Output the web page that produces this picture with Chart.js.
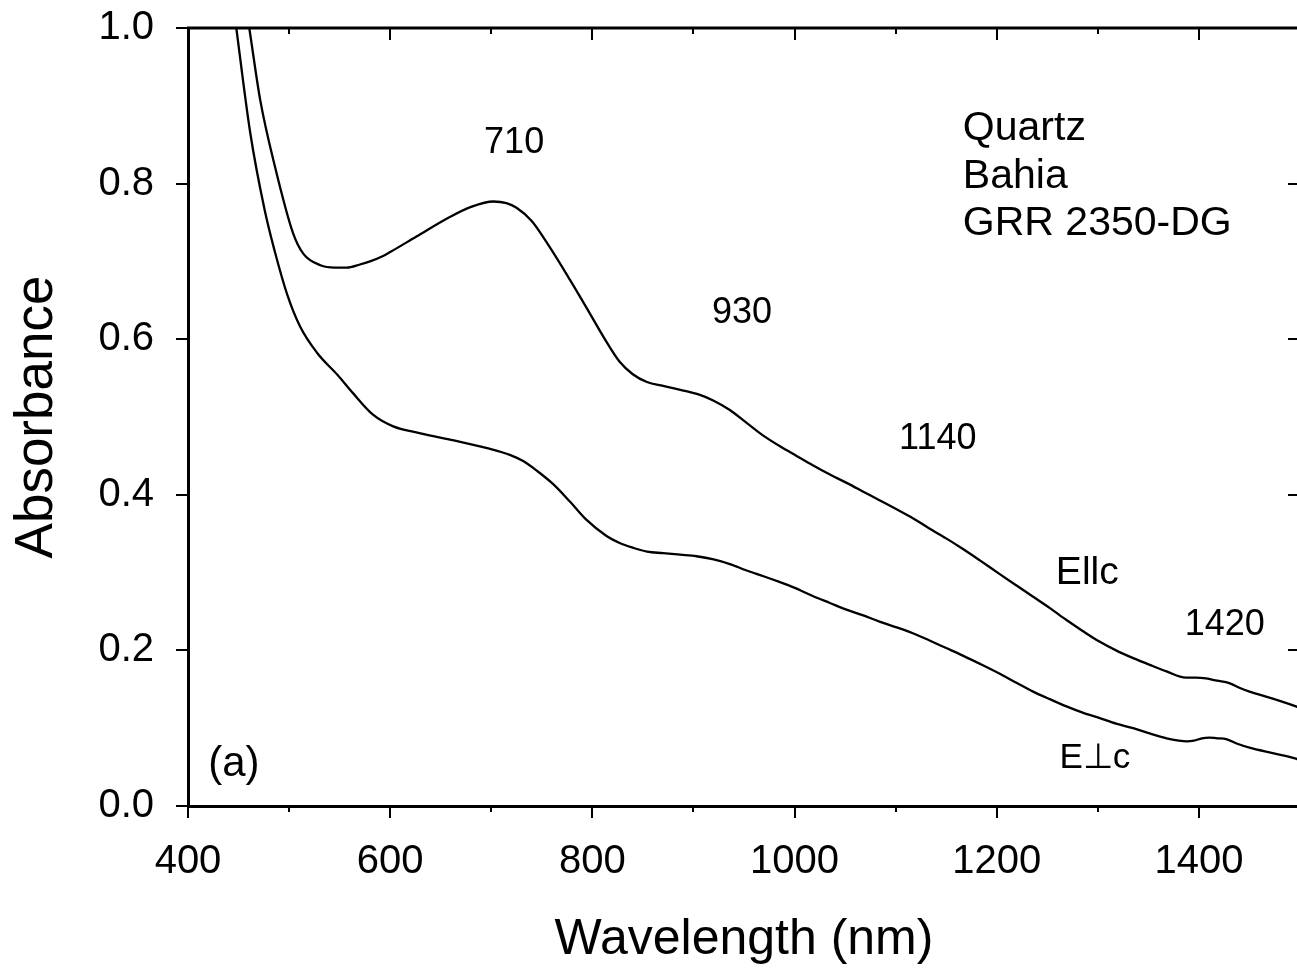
<!DOCTYPE html>
<html>
<head>
<meta charset="utf-8">
<title>Quartz Bahia absorbance</title>
<script src="https://cdn.jsdelivr.net/npm/chart.js@4.4.1/dist/chart.umd.min.js"></script>
<style>
    html, body { margin: 0; padding: 0; background: #fff; overflow: hidden; }
    #wrap { width: 1301px; height: 970px; }
</style>
</head>
<body>
<div id="wrap"><canvas id="absChart" width="1301" height="970"></canvas></div>
<script>
// Wavelength (nm) and absorbance, E||c
const parWave = [452, 460.6, 471.5, 486, 504, 514, 531, 545, 557, 570, 580, 593, 600, 626, 659, 680, 702, 715, 725, 740,
    758, 778, 794, 811, 827, 840, 854, 870, 887, 905, 920, 936, 952, 968, 986, 1002, 1018, 1035, 1052, 1068,
    1084, 1100, 1117, 1133, 1150, 1167, 1183, 1203, 1220, 1236, 1253, 1269, 1285, 1302, 1318, 1335, 1352, 1368, 1387, 1397,
    1407, 1418, 1430, 1440, 1450, 1473, 1496, 1500];
const parAbs = [1.07, 1.00, 0.907, 0.822, 0.736, 0.710, 0.695, 0.692, 0.692, 0.696, 0.700, 0.707, 0.712, 0.732, 0.757, 0.770, 0.777, 0.775, 0.769, 0.752,
    0.718, 0.676, 0.641, 0.603, 0.571, 0.555, 0.545, 0.540, 0.535, 0.529, 0.521, 0.509, 0.493, 0.477, 0.462, 0.450, 0.438, 0.426, 0.415, 0.404,
    0.393, 0.382, 0.370, 0.357, 0.344, 0.330, 0.316, 0.298, 0.283, 0.269, 0.254, 0.239, 0.225, 0.211, 0.200, 0.190, 0.181, 0.173, 0.165, 0.165,
    0.164, 0.161, 0.158, 0.152, 0.147, 0.138, 0.128, 0.126];

// E perpendicular c
const perpWave = [440, 447.8, 461.6, 476, 486, 498, 511, 528, 548, 563, 583, 603, 630, 663, 696, 719, 732, 745, 761, 778, 794,
    814, 827, 840, 854, 870, 887, 903, 920, 936, 952, 970, 985, 999, 1018, 1035, 1052, 1068, 1084, 1100, 1117,
    1133, 1150, 1167, 1183, 1203, 1220, 1236, 1253, 1269, 1285, 1302, 1318, 1335, 1352, 1368, 1380, 1388, 1395, 1403, 1410,
    1418, 1427, 1438, 1450, 1473, 1496, 1500];
const perpAbs = [1.08, 1.00, 0.865, 0.765, 0.712, 0.658, 0.616, 0.582, 0.554, 0.531, 0.503, 0.488, 0.479, 0.470, 0.460, 0.451, 0.443, 0.431, 0.414, 0.391, 0.368,
    0.347, 0.338, 0.332, 0.327, 0.325, 0.323, 0.321, 0.317, 0.311, 0.303, 0.295, 0.288, 0.281, 0.270, 0.261, 0.252, 0.245, 0.237, 0.230, 0.222,
    0.213, 0.203, 0.193, 0.183, 0.170, 0.158, 0.147, 0.137, 0.128, 0.120, 0.113, 0.106, 0.100, 0.093, 0.087, 0.084, 0.083, 0.084, 0.087, 0.088,
    0.087, 0.086, 0.080, 0.075, 0.068, 0.061, 0.059];

// Tick values
const xMajor = [400, 600, 800, 1000, 1200, 1400];
const xMinor = [500, 700, 900, 1100, 1300];
const yMajor = [0, 0.2, 0.4, 0.6, 0.8, 1.0];

// Text labels in the plot (data coordinates)
const notes = [
    { text: '710', x: 722.6, y: 0.852, size: 36, align: 'center' },
    { text: '930', x: 948, y: 0.634, size: 36, align: 'center' },
    { text: '1140', x: 1141.7, y: 0.472, size: 36, align: 'center' },
    { text: '1420', x: 1425.6, y: 0.233, size: 36, align: 'center' },
    { text: 'Ellc', x: 1258.5, y: 0.2995, size: 39, align: 'left' },
    { text: 'E\u22A5c', x: 1262, y: 0.0617, size: 35, align: 'left' },
    { text: 'Quartz', x: 1166.5, y: 0.870, size: 41, align: 'left' },
    { text: 'Bahia', x: 1166.5, y: 0.809, size: 41, align: 'left' },
    { text: 'GRR 2350-DG', x: 1166.5, y: 0.749, size: 41, align: 'left' },
    { text: '(a)', x: 420, y: 0.054, size: 42, align: 'left' },
];

const FONT = "'Liberation Sans', Arial, sans-serif";

function toPoints(xs, ys) {
    return xs.map((x, i) => ({ x: x, y: ys[i] }));
}

// Ticks, top frame line and text labels
const framePlugin = {
    id: 'frame',
    afterDraw(chart) {
        const ctx = chart.ctx;
        const area = chart.chartArea;
        const xs = chart.scales.x;
        const ys = chart.scales.y;
        ctx.save();
        ctx.strokeStyle = '#000';

        // top line
        ctx.lineWidth = 3;
        ctx.beginPath();
        ctx.moveTo(area.left - 1, area.top);
        ctx.lineTo(area.right, area.top);
        ctx.stroke();

        ctx.lineWidth = 2;
        ctx.beginPath();
        xMajor.forEach(v => {
            const px = Math.round(xs.getPixelForValue(v));
            ctx.moveTo(px, area.bottom);
            ctx.lineTo(px, area.bottom + 12);
            ctx.moveTo(px, area.top);
            ctx.lineTo(px, area.top + 12);
        });
        xMinor.forEach(v => {
            const px = Math.round(xs.getPixelForValue(v));
            ctx.moveTo(px, area.bottom);
            ctx.lineTo(px, area.bottom + 6);
            ctx.moveTo(px, area.top);
            ctx.lineTo(px, area.top + 6);
        });
        yMajor.forEach(v => {
            const py = Math.round(ys.getPixelForValue(v));
            ctx.moveTo(area.left - 12, py);
            ctx.lineTo(area.left, py);
            ctx.moveTo(area.right - 12, py);
            ctx.lineTo(area.right, py);
        });
        ctx.stroke();

        ctx.fillStyle = '#000';
        ctx.textBaseline = 'middle';
        notes.forEach(n => {
            ctx.font = n.size + 'px ' + FONT;
            ctx.textAlign = n.align;
            ctx.fillText(n.text, xs.getPixelForValue(n.x), ys.getPixelForValue(n.y));
        });
        ctx.restore();
    }
};

const ctx = document.getElementById('absChart').getContext('2d');

const absChart = new Chart(ctx, {
    type: 'line',
    data: {
        datasets: [
            {
                label: 'E||c',
                data: toPoints(parWave, parAbs),
                borderColor: '#000',
                borderWidth: 2.3,
                pointRadius: 0,
                fill: false,
                cubicInterpolationMode: 'monotone',
            },
            {
                label: 'E\u22A5c',
                data: toPoints(perpWave, perpAbs),
                borderColor: '#000',
                borderWidth: 2.3,
                pointRadius: 0,
                fill: false,
                cubicInterpolationMode: 'monotone',
            },
        ],
    },
    options: {
        responsive: false,
        animation: false,
        layout: { padding: { top: 28, right: 1, left: 0, bottom: 0 } },
        plugins: {
            legend: { display: false },
            tooltip: { enabled: false },
        },
        scales: {
            x: {
                type: 'linear',
                min: 400,
                max: 1500,
                afterBuildTicks: scale => { scale.ticks = xMajor.map(v => ({ value: v })); },
                afterFit: scale => {
                    scale.height = 164;
                    scale.paddingLeft = 0;
                    scale.paddingRight = 0;
                },
                grid: { display: false, drawTicks: false },
                border: { display: true, color: '#000', width: 3 },
                ticks: {
                    color: '#000',
                    padding: 32,
                    maxRotation: 0,
                    font: { family: FONT, size: 40 },
                    callback: v => String(v),
                },
                title: {
                    display: true,
                    text: 'Wavelength (nm)',
                    color: '#000',
                    padding: { top: 0, bottom: 0 },
                    font: { family: FONT, size: 50 },
                },
            },
            y: {
                type: 'linear',
                min: 0,
                max: 1.0,
                afterBuildTicks: scale => { scale.ticks = yMajor.map(v => ({ value: v })); },
                afterFit: scale => {
                    scale.width = 188;
                    scale.paddingTop = 0;
                    scale.paddingBottom = 0;
                },
                grid: { display: false, drawTicks: false },
                border: { display: true, color: '#000', width: 3 },
                ticks: {
                    color: '#000',
                    padding: 34,
                    font: { family: FONT, size: 40 },
                    callback: v => v.toFixed(1),
                },
                title: {
                    display: true,
                    text: 'Absorbance',
                    color: '#000',
                    padding: { top: 6, bottom: 0 },
                    font: { family: FONT, size: 53 },
                },
            },
        },
    },
    plugins: [framePlugin],
});
</script>
</body>
</html>
